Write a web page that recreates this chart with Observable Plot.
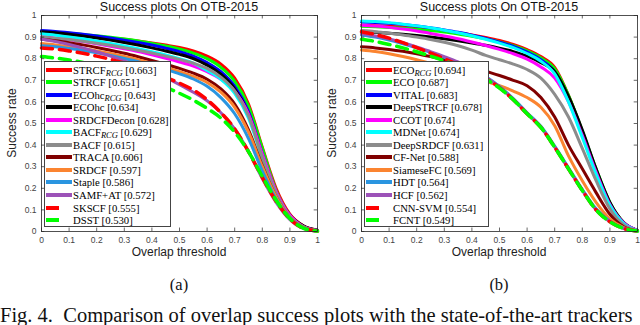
<!DOCTYPE html>
<html>
<head>
<meta charset="utf-8">
<script src="https://cdn.jsdelivr.net/npm/d3@7"></script>
<script src="https://cdn.jsdelivr.net/npm/@observablehq/plot@0.6"></script>
<style>
  html, body { margin: 0; padding: 0; background: #fff; }
  #page { position: relative; width: 640px; height: 325px; overflow: hidden; background: #fff; }
  .panel { position: absolute; top: 0; width: 320px; height: 265px; }
  .title { position: absolute; top: 0px; line-height: 12px; width: 320px; font: 12.5px "Liberation Sans", Arial, sans-serif; color: #111; }
  .xlabel { position: absolute; top: 245px; font: 12px "Liberation Sans", Arial, sans-serif; color: #222; }
  .ylabel { position: absolute; font: 12px "Liberation Sans", Arial, sans-serif; color: #222; transform: rotate(-90deg); transform-origin: center; white-space: nowrap; }
  .legend { position: absolute; top: 61px; height: 166px; border: 1px solid #444; background: #fff; box-sizing: border-box; }
  .row { position: absolute; left: 0; height: 12px; line-height: 12px; white-space: nowrap; font: 10.7px "Liberation Serif", "Times New Roman", serif; color: #000; }
  .row svg { position: absolute; left: 0; top: 0; }
  .row span.t { position: absolute; left: 28px; top: 0; }
  .row sub { font-style: italic; font-size: 8.5px; vertical-align: -2px; line-height: 0; }
  .sub { position: absolute; top: 275px; font: 16.5px "Liberation Serif", "Times New Roman", serif; color: #111; }
  .cap { position: absolute; left: 0; top: 304px; font: 20.5px "Liberation Serif", "Times New Roman", serif; color: #111; white-space: pre; }
</style>
</head>
<body>
<div id="page"></div>
<script>
// ---------- data ----------
const thresholds = [0,0.05,0.1,0.15,0.2,0.25,0.3,0.35,0.4,0.45,0.5,0.55,0.6,0.65,0.7,0.75,0.8,0.85,0.9,0.95,1];
const xTicks = [0,0.1,0.2,0.3,0.4,0.5,0.6,0.7,0.8,0.9,1];
const yTicks = [0,0.1,0.2,0.3,0.4,0.5,0.6,0.7,0.8,0.9,1];
const tickLabels = ["0","0.1","0.2","0.3","0.4","0.5","0.6","0.7","0.8","0.9","1"];
const chartTitle = "Success plots On OTB-2015";
const xLabel = "Overlap threshold";
const yLabel = "Success rate";
const subLabels = ["(a)", "(b)"];
const caption = "Fig. 4.  Comparison of overlap success plots with the state-of-the-art trackers";

// panel (a)
const namesA = ["STRCF_RCG","STRCF","ECOhc_RCG","ECOhc","SRDCFDecon","BACF_RCG","BACF","TRACA","SRDCF","Staple","SAMF+AT","SKSCF","DSST"];
const aucA = ["0.663","0.651","0.643","0.634","0.628","0.629","0.615","0.606","0.597","0.586","0.572","0.555","0.530"];
const a_STRCF_RCG  = [.915,.913,.91,.906,.901,.896,.89,.882,.873,.863,.852,.836,.812,.775,.71,.59,.39,.2,.08,.025,.005];
const a_STRCF      = [.925,.922,.918,.912,.906,.899,.891,.882,.871,.859,.845,.826,.8,.76,.695,.58,.385,.19,.075,.022,.005];
const a_ECOhc_RCG  = [.93,.926,.92,.913,.905,.896,.886,.875,.863,.849,.833,.812,.782,.74,.672,.555,.36,.18,.072,.021,.005];
const a_ECOhc      = [.925,.92,.913,.905,.896,.886,.875,.863,.85,.836,.82,.8,.77,.728,.66,.545,.355,.18,.075,.025,.006];
const a_SRDCFDecon = [.9,.895,.888,.879,.869,.858,.846,.833,.818,.802,.785,.766,.74,.705,.65,.545,.36,.185,.075,.022,.005];
const a_BACF_RCG   = [.915,.909,.901,.892,.882,.871,.859,.846,.832,.817,.8,.78,.745,.705,.64,.525,.34,.17,.067,.02,.004];
const a_BACF       = [.9,.895,.889,.881,.872,.862,.851,.839,.826,.812,.797,.779,.755,.715,.65,.535,.345,.175,.068,.02,.004];
const a_TRACA      = [.89,.883,.874,.864,.852,.839,.825,.809,.792,.774,.755,.733,.705,.66,.59,.47,.305,.16,.063,.018,.003];
const a_SRDCF      = [.87,.864,.856,.847,.836,.824,.81,.795,.778,.76,.74,.718,.69,.645,.575,.46,.3,.16,.063,.018,.003];
const a_Staple     = [.86,.855,.847,.838,.827,.815,.801,.786,.769,.75,.73,.706,.672,.62,.545,.43,.28,.15,.06,.016,.003];
const a_SAMF_AT    = [.89,.88,.866,.85,.832,.812,.79,.766,.74,.712,.68,.645,.605,.55,.475,.37,.245,.135,.055,.014,.002];
const a_SKSCF      = [.85,.845,.836,.825,.812,.797,.78,.76,.737,.713,.687,.655,.61,.55,.475,.37,.25,.14,.058,.014,.002];
const a_DSST       = [.81,.803,.794,.783,.77,.755,.737,.717,.694,.668,.64,.608,.57,.525,.46,.37,.255,.145,.06,.015,.002];

// panel (b)
const namesB = ["ECO_RCG","ECO","VITAL","DeepSTRCF","CCOT","MDNet","DeepSRDCF","CF-Net","SiameseFC","HDT","HCF","CNN-SVM","FCNT"];
const aucB = ["0.694","0.687","0.683","0.678","0.674","0.674","0.631","0.588","0.569","0.564","0.562","0.554","0.549"];
const b_ECO_RCG   = [.955,.953,.95,.946,.941,.935,.928,.92,.91,.898,.884,.866,.842,.81,.76,.63,.46,.28,.13,.04,.005];
const b_ECO       = [.95,.948,.945,.941,.936,.93,.923,.914,.904,.892,.878,.86,.836,.803,.753,.63,.465,.29,.135,.042,.005];
const b_VITAL     = [.97,.968,.964,.958,.951,.943,.933,.922,.909,.894,.877,.857,.83,.795,.74,.615,.45,.275,.125,.04,.005];
const b_DeepSTRCF = [.925,.922,.918,.913,.907,.9,.892,.883,.873,.862,.849,.833,.812,.782,.74,.625,.47,.29,.135,.042,.005];
const b_CCOT      = [.955,.951,.945,.937,.928,.917,.905,.892,.877,.861,.843,.823,.798,.762,.71,.6,.445,.275,.125,.04,.005];
const b_MDNet     = [.975,.972,.967,.96,.952,.943,.932,.92,.906,.89,.872,.851,.824,.788,.73,.6,.435,.265,.12,.037,.005];
const b_DeepSRDCF = [.93,.925,.918,.91,.9,.889,.876,.86,.84,.815,.795,.775,.75,.71,.635,.53,.385,.235,.105,.03,.004];
const b_CFNet     = [.855,.85,.843,.834,.823,.81,.796,.78,.762,.742,.722,.7,.675,.62,.53,.4,.29,.18,.08,.022,.003];
const b_SiameseFC = [.84,.833,.823,.81,.795,.778,.76,.74,.718,.695,.675,.65,.62,.575,.49,.35,.235,.135,.058,.018,.003];
const b_HDT       = [.91,.9,.886,.869,.85,.829,.806,.781,.756,.718,.672,.615,.55,.487,.395,.295,.195,.105,.048,.015,.002];
const b_HCF       = [.915,.905,.891,.874,.855,.833,.81,.785,.755,.715,.668,.61,.545,.482,.39,.29,.19,.1,.045,.014,.002];
const b_CNN_SVM   = [.925,.912,.895,.874,.851,.826,.8,.773,.745,.71,.666,.61,.545,.482,.39,.29,.19,.1,.045,.014,.002];
const b_FCNT      = [.89,.88,.866,.85,.832,.812,.79,.767,.74,.706,.664,.61,.545,.482,.39,.29,.19,.1,.045,.014,.002];

const colors = ["#ff0000","#00ff00","#0000ff","#000000","#ff00ff","#00ffff","#8c8c8c","#800000","#fb8430","#2a95e0","#9c52b8","#ff0000","#00ff00"];
const dashed = [false,false,false,false,false,false,false,false,false,false,false,true,true];

const seriesA = [a_STRCF_RCG,a_STRCF,a_ECOhc_RCG,a_ECOhc,a_SRDCFDecon,a_BACF_RCG,a_BACF,a_TRACA,a_SRDCF,a_Staple,a_SAMF_AT,a_SKSCF,a_DSST];
const seriesB = [b_ECO_RCG,b_ECO,b_VITAL,b_DeepSTRCF,b_CCOT,b_MDNet,b_DeepSRDCF,b_CFNet,b_SiameseFC,b_HDT,b_HCF,b_CNN_SVM,b_FCNT];

// ---------- drawing ----------
const page = document.getElementById("page");
const ML = 41, MR = 3, MT = 15, MB = 34, W = 320, H = 265;

function makePlot(series) {
  const lineMarks = series.map((vals, i) =>
    Plot.line(vals.map((v, j) => ({t: thresholds[j], v})), {
      x: "t", y: "v", stroke: colors[i],
      strokeWidth: dashed[i] ? 3.5 : 3,
      strokeDasharray: dashed[i] ? "11,7" : null,
      curve: "monotone-x"
    })
  );
  const fmt = d => tickLabels[Math.round(d * 10)];
  return Plot.plot({
    width: W, height: H,
    marginTop: MT, marginBottom: MB, marginLeft: ML, marginRight: MR,
    x: {domain: [0, 1]},
    y: {domain: [0, 1]},
    style: {fontFamily: "'Liberation Sans', Arial, sans-serif", fontSize: "8.5px", color: "#333", background: "transparent", overflow: "visible"},
    marks: [
      ...lineMarks,
      Plot.frame({stroke: "#262626", strokeWidth: 0.8}),
      Plot.ruleX(xTicks, {x: d => d, y1: 0, y2: 0.016, stroke: "#262626", strokeWidth: 0.7}),
      Plot.ruleX(xTicks, {x: d => d, y1: 1, y2: 0.984, stroke: "#262626", strokeWidth: 0.7}),
      Plot.ruleY(yTicks, {y: d => d, x1: 0, x2: 0.012, stroke: "#262626", strokeWidth: 0.7}),
      Plot.ruleY(yTicks, {y: d => d, x1: 1, x2: 0.988, stroke: "#262626", strokeWidth: 0.7}),
      Plot.axisX({ticks: xTicks, tickSize: 0, tickPadding: 5, tickFormat: fmt, label: null, fill: "#444"}),
      Plot.axisY({ticks: yTicks, tickSize: 0, tickPadding: 5, tickFormat: fmt, label: null, fill: "#444"})
    ]
  });
}

function labelHTML(name, auc) {
  const parts = name.split("_");
  let s = parts[0];
  if (parts.length > 1) s += "<sub>" + parts[1] + "</sub>";
  return s + " [" + auc + "]";
}

function addPanel(x0, series, names, aucs, legendWidth, subLabel) {
  const panel = document.createElement("div");
  panel.className = "panel";
  panel.style.left = x0 + "px";
  panel.appendChild(makePlot(series));
  page.appendChild(panel);

  const title = document.createElement("div");
  title.className = "title";
  title.style.left = x0 + "px";
  title.style.width = "320px";
  title.style.textAlign = "center";
  title.style.paddingLeft = (ML - MR) + "px";
  title.style.boxSizing = "border-box";
  title.textContent = chartTitle;
  page.appendChild(title);

  const xl = document.createElement("div");
  xl.className = "xlabel";
  xl.style.left = (x0 + ML) + "px";
  xl.style.width = (W - ML - MR) + "px";
  xl.style.textAlign = "center";
  xl.textContent = xLabel;
  page.appendChild(xl);

  const yl = document.createElement("div");
  yl.className = "ylabel";
  yl.textContent = yLabel;
  yl.style.width = "100px";
  yl.style.textAlign = "center";
  yl.style.left = (x0 + 12 - 50) + "px";
  yl.style.top = (123 - 7) + "px";
  page.appendChild(yl);

  const lg = document.createElement("div");
  lg.className = "legend";
  lg.style.left = (x0 + 44) + "px";
  lg.style.width = legendWidth + "px";
  names.forEach((n, i) => {
    const row = document.createElement("div");
    row.className = "row";
    row.style.top = (7.5 - 6 + i * 12.55) + "px";
    row.style.width = (legendWidth - 4) + "px";
    const dash = dashed[i] ? ' stroke-dasharray="13,13"' : "";
    row.innerHTML = '<svg width="30" height="12"><line x1="1" x2="27" y1="6" y2="6" stroke="' + colors[i] + '" stroke-width="4"' + dash + '/></svg><span class="t">' + labelHTML(n, aucs[i]) + '</span>';
    lg.appendChild(row);
  });
  page.appendChild(lg);

  const sl = document.createElement("div");
  sl.className = "sub";
  sl.style.left = (x0 + ML) + "px";
  sl.style.width = (W - ML - MR) + "px";
  sl.style.textAlign = "center";
  sl.textContent = subLabel;
  page.appendChild(sl);
}

addPanel(0, seriesA, namesA, aucA, 127, subLabels[0]);
addPanel(320, seriesB, namesB, aucB, 125, subLabels[1]);

const cap = document.createElement("div");
cap.className = "cap";
cap.textContent = caption;
page.appendChild(cap);
</script>
</body>
</html>
